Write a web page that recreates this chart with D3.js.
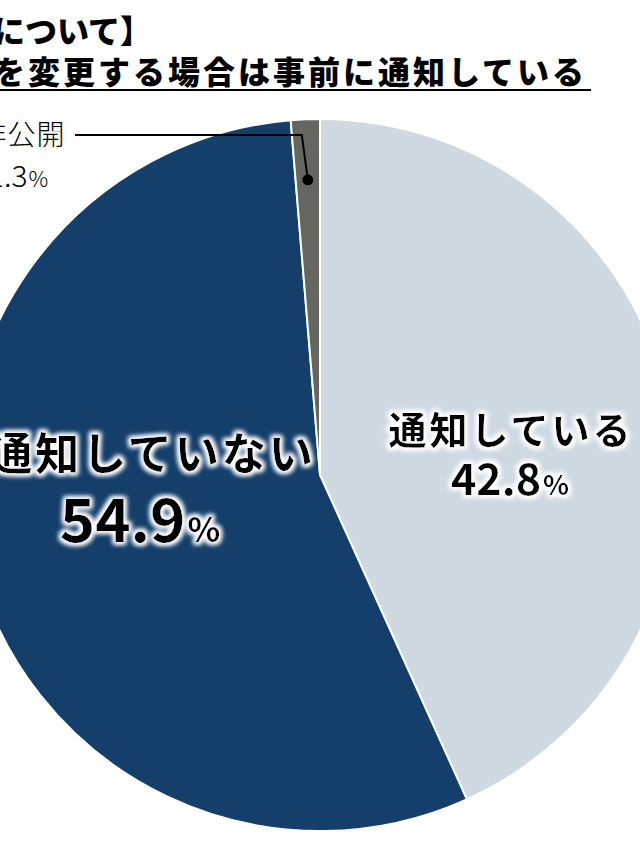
<!DOCTYPE html>
<html>
<head>
<meta charset="utf-8">
<script src="https://cdn.jsdelivr.net/npm/d3@7"></script>
<style>
  html, body { margin: 0; padding: 0; background: #fff; }
  svg { display: block; }
  text { font-family: "Noto Sans CJK JP", sans-serif; }
</style>
</head>
<body>
<svg id="chart" width="640" height="853"></svg>
<script>
// data
const categories = ["通知している", "通知していない", "非公開"];
const values = [42.8, 54.9, 1.3];
const colors = ["#cfd9e2", "#143f6b", "#666661"];
const titleLines = ["【利用規約について】", "利用規約を変更する場合は事前に通知している"];

const width = 640, height = 853;
const cx = 320, cy = 475, radius = 356;

const svg = d3.select("#chart");

// white glow behind the slice labels
const defs = svg.append("defs");
const glow = defs.append("filter").attr("id", "glow")
  .attr("x", "-20%").attr("y", "-30%").attr("width", "140%").attr("height", "160%");
glow.append("feMorphology").attr("in", "SourceAlpha").attr("operator", "dilate").attr("radius", 2).attr("result", "fat");
glow.append("feGaussianBlur").attr("in", "fat").attr("stdDeviation", 2.5).attr("result", "blur");
glow.append("feFlood").attr("flood-color", "#fff");
glow.append("feComposite").attr("in2", "blur").attr("operator", "in").attr("result", "halo");
const merge = glow.append("feMerge");
merge.append("feMergeNode").attr("in", "halo");
merge.append("feMergeNode").attr("in", "halo");
merge.append("feMergeNode").attr("in", "SourceGraphic");

// title
svg.append("text")
  .attr("x", 152).attr("y", 43)
  .attr("text-anchor", "end")
  .attr("font-size", 32).attr("font-weight", 900)
  .text(titleLines[0]);

svg.append("text")
  .attr("x", 587).attr("y", 84)
  .attr("text-anchor", "end")
  .attr("font-size", 32).attr("font-weight", 900)
  .attr("letter-spacing", 3)
  .text(titleLines[1]);

svg.append("line")
  .attr("x1", 0).attr("x2", 591)
  .attr("y1", 90).attr("y2", 90)
  .attr("stroke", "#000").attr("stroke-width", 2);

// pie
const pie = d3.pie().sort(null).value(d => d);
const arcs = pie(values);
const arc = d3.arc().innerRadius(0).outerRadius(radius);

const g = svg.append("g").attr("transform", `translate(${cx},${cy})`);

g.selectAll("path.slice")
  .data(arcs)
  .join("path")
  .attr("class", "slice")
  .attr("d", arc)
  .attr("fill", (d, i) => colors[i])
  .attr("stroke", "#fff")
  .attr("stroke-width", 2)
  .attr("stroke-linejoin", "round");

// slice labels (in-pie)
function pieLabel(x, y, vx, name, value, nameSize, numSize, pctSize, gap) {
  const lg = g.append("g").attr("filter", "url(#glow)");
  lg.append("text")
    .attr("x", x).attr("y", y)
    .attr("text-anchor", "middle")
    .attr("font-size", nameSize).attr("font-weight", 700)
    .attr("letter-spacing", 3)
    .text(name);
  const v = lg.append("text")
    .attr("x", vx).attr("y", y + gap)
    .attr("text-anchor", "middle")
    .attr("font-weight", 700);
  v.append("tspan").attr("font-size", numSize).text(value.toFixed(1));
  v.append("tspan").attr("font-size", pctSize).attr("dx", 2).text("%");
}

pieLabel(191, -31, 190, categories[0], values[0], 38, 43, 27, 51);
pieLabel(-168, -5, -180, categories[1], values[1], 44, 60, 34, 72);

// leader label for the small slice
const small = arcs[2];
const dotArc = d3.arc().innerRadius(radius * 0.83).outerRadius(radius * 0.83);
const [dx, dy] = dotArc.centroid(small);
const elbowY = -340;
g.append("path")
  .attr("d", d3.line()([[-245, elbowY], [dx - 6, elbowY], [dx, dy]]))
  .attr("fill", "none")
  .attr("stroke", "#000")
  .attr("stroke-width", 2);
g.append("circle")
  .attr("cx", dx).attr("cy", dy).attr("r", 5.5)
  .attr("fill", "#000");

g.append("text")
  .attr("x", -298).attr("y", -330)
  .attr("text-anchor", "middle")
  .attr("font-size", 28)
  .attr("font-weight", 300)
  .attr("letter-spacing", 1)
  .text(categories[2]);
const sv = g.append("text")
  .attr("x", -302).attr("y", -288)
  .attr("text-anchor", "middle")
  .attr("font-weight", 300);
sv.append("tspan").attr("font-size", 30).text(values[2].toFixed(1));
sv.append("tspan").attr("font-size", 22).attr("dx", 1).text("%");
</script>
</body>
</html>
